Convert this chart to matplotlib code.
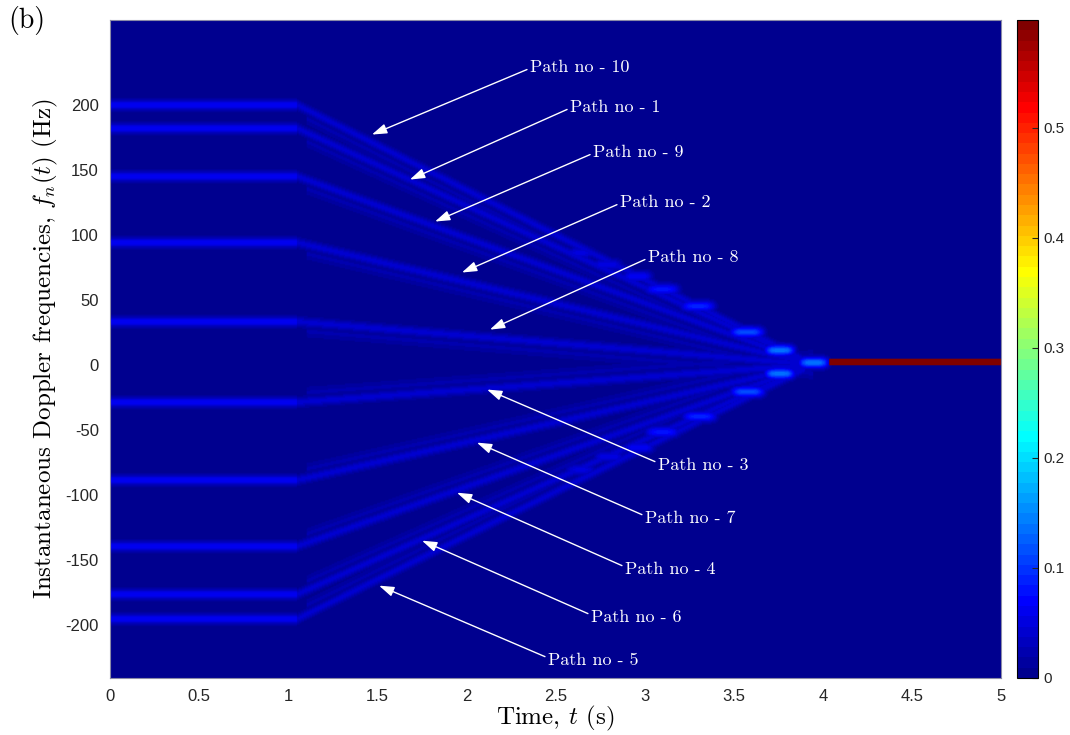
import numpy as np
import matplotlib
matplotlib.use('Agg')
import matplotlib.pyplot as plt
from matplotlib.colors import ListedColormap

plt.rcParams['mathtext.fontset'] = 'cm'
plt.rcParams['axes.unicode_minus'] = False

# Path data: starting Doppler frequency of each path (Hz)
path_no = [10, 1, 9, 2, 8, 3, 7, 4, 6, 5]
f_start = [200, 182, 145, 94, 33, -29, -89, -140, -177, -196]
t_knee = 1.05      # paths start turning here (s)
t_end = 3.95       # paths merge at 0 Hz here (s)
amp_flat = 0.062
amp_slope = 0.042

# bright spots near the merging point: (t, f, value, width in t)
blob_t = [2.64, 2.79, 2.96, 3.10, 3.30, 3.575, 3.76, 3.95,
          2.64, 2.80, 2.97, 3.10, 3.31, 3.58, 3.76]
blob_f = [86, 77, 68, 58, 45, 25, 11, 1.5,
          -81, -71, -64, -52, -40, -21, -7]
blob_v = [0.05, 0.055, 0.065, 0.08, 0.09, 0.115, 0.14, 0.14,
          0.05, 0.055, 0.065, 0.08, 0.09, 0.115, 0.14]
blob_w = [0.07, 0.07, 0.07, 0.08, 0.08, 0.08, 0.07, 0.07,
          0.07, 0.07, 0.07, 0.08, 0.08, 0.08, 0.07]

# line of the direct component after merging
red_t0, red_f, red_val = 4.04, 2.0, 0.598

# arrows: tip (t, f) and tail (t, f)
tip_t = [1.470, 1.683, 1.824, 1.975, 2.132, 2.116, 2.059, 1.947, 1.751, 1.510]
tip_f = [176.9, 142.3, 110.0, 70.8, 26.9, -19.2, -60.0, -98.5, -135.4, -170.0]
tail_t = [2.34, 2.565, 2.694, 2.845, 3.002, 3.058, 2.985, 2.873, 2.682, 2.441]
tail_f = [226.9, 196.2, 161.5, 123.0, 80.8, -74.6, -115.4, -154.6, -191.5, -224.6]

# MATLAB style jet with 64 levels
m = 64
n = 16
u = np.concatenate([np.arange(1, n + 1) / n, np.ones(n - 1), np.arange(n, 0, -1) / n])
g = 8 + np.arange(1, len(u) + 1)
r = g + n
b = g - n
J = np.zeros((m, 3))
J[r[r <= m] - 1, 0] = u[r <= m]
J[g[g <= m] - 1, 1] = u[g <= m]
J[b[b >= 1] - 1, 2] = u[b >= 1]
cmap = ListedColormap(J)

# build the time-frequency map
t = np.linspace(0, 5, 1001)
f = np.linspace(-241, 265, 507)
T, F = np.meshgrid(t, f)
Z = np.zeros_like(T)
for f0 in f_start:
    fc = np.where(T < t_knee, f0, f0 * (t_end - T) / (t_end - t_knee))
    a = np.where(T < t_knee, amp_flat, amp_slope)
    a = np.where(T > t_end - 0.05, 0, a)
    Z = np.maximum(Z, a * np.exp(-0.5 * ((F - fc) / 2.7) ** 2))
    # faint smear beside the sloped part
    sm = np.where((T > t_knee + 0.05) & (T < t_end), 0.02, 0)
    Z = np.maximum(Z, sm * np.exp(-0.5 * ((F - fc + 7 * np.sign(f0)) / 3.5) ** 2))
for bt, bf, bv, bw in zip(blob_t, blob_f, blob_v, blob_w):
    Z = np.maximum(Z, bv * np.exp(-0.5 * ((T - bt) / bw) ** 4 - 0.5 * ((F - bf) / 3.0) ** 2))
Z[(T >= red_t0) & (np.abs(F - red_f) < 2.6)] = red_val

fig = plt.figure(figsize=(10.7, 7.35), dpi=100)
ax = fig.add_axes([0.1028, 0.0776, 0.8327, 0.8952])
cax = fig.add_axes([0.9505, 0.0776, 0.0196, 0.8952])

im = ax.imshow(Z, origin='lower', extent=[0, 5, -241, 265], aspect='auto',
               cmap=cmap, vmin=0, vmax=red_val, interpolation='bilinear')
ax.set_xlim(0, 5)
ax.set_ylim(-241, 265)
ax.set_xticks(np.arange(0, 5.01, 0.5))
ax.set_xticklabels(['0', '0.5', '1', '1.5', '2', '2.5', '3', '3.5', '4', '4.5', '5'])
ax.set_yticks(np.arange(-200, 201, 50))
ax.tick_params(direction='in', length=0, labelsize=12, pad=8, colors='#262626')
for lab in ax.get_xticklabels() + ax.get_yticklabels():
    lab.set_family('Liberation Sans')
for s in ax.spines.values():
    s.set_color('#8a8aa8')
    s.set_linewidth(0.8)

ax.set_xlabel(r'Time, $t$ (s)', family='cmr10', fontsize=18, labelpad=0)
ax.set_ylabel(r'Instantaneous Doppler frequencies, $f_n(t)$ (Hz)',
              family='cmr10', fontsize=18, labelpad=4)

# arrows and labels for each path
for i in range(len(path_no)):
    ax.annotate('', xy=(tip_t[i], tip_f[i]), xytext=(tail_t[i], tail_f[i]),
                arrowprops=dict(arrowstyle='-|>,head_length=0.45,head_width=0.15',
                                color='white', lw=1.0, mutation_scale=20,
                                shrinkA=0, shrinkB=0))
    ax.text(tail_t[i] + 0.015, tail_f[i] + (1.5 if tail_f[i] > 0 else -3),
            'Path no - %d' % path_no[i], family='cmr10', fontsize=13,
            color='white', ha='left', va='center')

cb = fig.colorbar(im, cax=cax)
cb.set_ticks([0, 0.1, 0.2, 0.3, 0.4, 0.5])
cb.set_ticklabels(['0', '0.1', '0.2', '0.3', '0.4', '0.5'])
cb.ax.tick_params(direction='in', length=4, labelsize=11, pad=4, colors='#262626')
for lab in cb.ax.get_yticklabels():
    lab.set_family('Liberation Sans')
cb.outline.set_linewidth(0.8)

fig.text(0.008, 0.972, '(b)', family='cmr10', fontsize=20, va='center', ha='left')

plt.savefig('out.png', dpi=100)
